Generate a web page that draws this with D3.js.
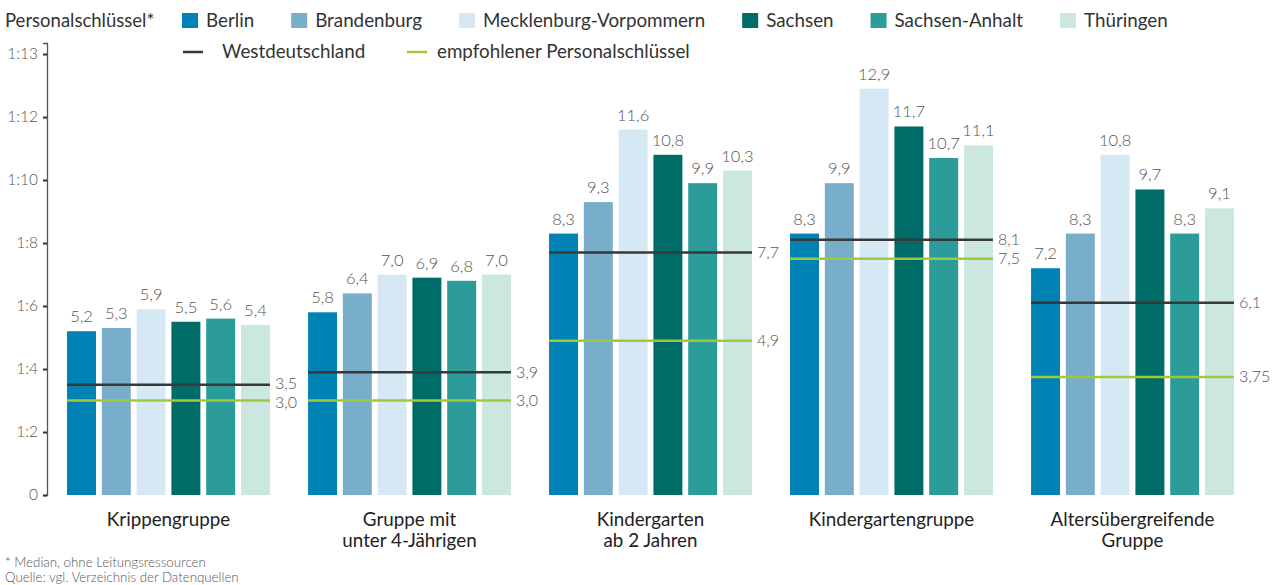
<!DOCTYPE html>
<html>
<head>
<meta charset="utf-8">
<script src="https://cdn.jsdelivr.net/npm/d3@7"></script>
<style>
  body { margin: 0; background: #fff; }
  svg { font-family: Lato, "Open Sans", sans-serif; }
</style>
</head>
<body>
<div id="main"></div>
<script>
// data
var groups = [["Krippengruppe"], ["Gruppe mit", "unter 4-Jährigen"], ["Kindergarten", "ab 2 Jahren"], ["Kindergartengruppe"], ["Altersübergreifende", "Gruppe"]];
var states = ["Berlin", "Brandenburg", "Mecklenburg-Vorpommern", "Sachsen", "Sachsen-Anhalt", "Thüringen"];
var colors = ["#0082b4", "#78aec9", "#d6e8f4", "#006c67", "#2b9c99", "#cce6e0"];

var berlin = [5.2, 5.8, 8.3, 8.3, 7.2];
var brandenburg = [5.3, 6.4, 9.3, 9.9, 8.3];
var mv = [5.9, 7.0, 11.6, 12.9, 10.8];
var sachsen = [5.5, 6.9, 10.8, 11.7, 9.7];
var sachsenAnhalt = [5.6, 6.8, 9.9, 10.7, 8.3];
var thueringen = [5.4, 7.0, 10.3, 11.1, 9.1];
var seriesValues = [berlin, brandenburg, mv, sachsen, sachsenAnhalt, thueringen];

var west = [3.5, 3.9, 7.7, 8.1, 6.1];
var westLabels = ["3,5", "3,9", "7,7", "8,1", "6,1"];
var empfohlen = [3.0, 3.0, 4.9, 7.5, 3.75];
var empfLabels = ["3,0", "3,0", "4,9", "7,5", "3,75"];

var tickValues = [0, 2, 4, 6, 8, 10, 12, 14];
var tickLabels = ["0", "1:2", "1:4", "1:6", "1:8", "1:10", "1:12", "1:13"];

var width = 1274, height = 585;

var svg = d3.select("#main")
  .append("svg")
  .attr("width", width)
  .attr("height", height);

var y = d3.scaleLinear()
  .domain([0, 14.35])
  .range([495, 43]);

var x0 = d3.scaleBand()
  .domain(d3.range(groups.length))
  .range([48, 1253])
  .paddingInner(0.158)
  .paddingOuter(0.079);

var x1 = d3.scaleBand()
  .domain(d3.range(states.length))
  .range([0, x0.bandwidth()])
  .paddingInner(0.167);

// y axis
var yAxis = svg.append("g")
  .attr("transform", "translate(47,0)")
  .call(d3.axisLeft(y)
    .tickValues(tickValues)
    .tickSize(4)
    .tickFormat(function (d, i) { return tickLabels[i]; }));
yAxis.select(".domain").attr("stroke", "#555").attr("stroke-width", 1.3);
yAxis.selectAll(".tick line").attr("stroke", "#333").attr("stroke-width", 2);
yAxis.selectAll(".tick text")
  .attr("x", -9)
  .style("font-family", "Lato, sans-serif")
  .style("font-size", "15.5px")
  .style("font-weight", 300)
  .attr("fill", "#555");

// bars
var g = svg.selectAll(".grp")
  .data(groups)
  .enter()
  .append("g")
  .attr("class", "grp")
  .attr("transform", function (d, i) { return "translate(" + x0(i) + ",0)"; });

g.selectAll("rect")
  .data(function (d, gi) { return seriesValues.map(function (s, si) { return { si: si, v: s[gi] }; }); })
  .enter()
  .append("rect")
  .attr("x", function (d) { return x1(d.si); })
  .attr("y", function (d) { return y(d.v); })
  .attr("width", x1.bandwidth())
  .attr("height", function (d) { return y(0) - y(d.v); })
  .attr("fill", function (d) { return colors[d.si]; });

g.selectAll("text.val")
  .data(function (d, gi) { return seriesValues.map(function (s, si) { return { si: si, v: s[gi] }; }); })
  .enter()
  .append("text")
  .attr("class", "val")
  .attr("x", function (d) { return x1(d.si) + x1.bandwidth() / 2; })
  .attr("y", function (d) { return y(d.v) - 9; })
  .attr("text-anchor", "middle")
  .style("font-size", "16.5px")
  .style("font-weight", 300)
  .attr("fill", "#555")
  .text(function (d) { return d3.format(".1f")(d.v).replace(".", ","); });

// reference lines
function refLine(values, color) {
  g.append("line")
    .attr("x1", 0)
    .attr("x2", x0.bandwidth())
    .attr("y1", function (d, i) { return y(values[i]); })
    .attr("y2", function (d, i) { return y(values[i]); })
    .attr("stroke", color)
    .attr("stroke-width", 2.5);
}
refLine(west, "#383838");
refLine(empfohlen, "#a2c73b");

// labels for the reference lines, pushed apart a little where they sit close
var minGap = 19;
function refLabel(values, labels, sign) {
  g.append("text")
    .attr("x", x0.bandwidth() + 5)
    .attr("y", function (d, i) {
      var gap = y(empfohlen[i]) - y(west[i]);
      var shift = gap < minGap ? (minGap - gap) / 2 : 0;
      return y(values[i]) + sign * shift;
    })
    .attr("dy", "0.35em")
    .style("font-size", "16px")
    .style("font-weight", 300)
    .attr("fill", "#555")
    .text(function (d, i) { return labels[i]; });
}
refLabel(west, westLabels, -1);
refLabel(empfohlen, empfLabels, 1);

// category labels
g.append("text")
  .attr("x", x0.bandwidth() / 2)
  .attr("y", 526)
  .attr("text-anchor", "middle")
  .style("font-size", "18.8px")
  .attr("fill", "#222")
  .selectAll("tspan")
  .data(function (d) { return d; })
  .enter()
  .append("tspan")
  .attr("x", x0.bandwidth() / 2)
  .attr("dy", function (d, i) { return i === 0 ? 0 : 21; })
  .text(function (d) { return d; });

// legend
svg.append("text")
  .attr("x", 5)
  .attr("y", 27)
  .style("font-size", "18.5px")
  .attr("fill", "#333")
  .text("Personalschlüssel*");

var lx = 182;
states.forEach(function (s, i) {
  svg.append("rect")
    .attr("x", lx).attr("y", 13)
    .attr("width", 16).attr("height", 15)
    .attr("fill", colors[i]);
  var t = svg.append("text")
    .attr("x", lx + 24)
    .attr("y", 27)
    .style("font-size", "18.8px")
    .attr("fill", "#333")
    .text(s);
  lx += 24 + t.node().getComputedTextLength() + 37;
});

var refLegend = [["Westdeutschland", "#383838"], ["empfohlener Personalschlüssel", "#a2c73b"]];
var refLegendX = [183, 407];
refLegend.forEach(function (r, i) {
  var lx = refLegendX[i];
  svg.append("line")
    .attr("x1", lx).attr("x2", lx + 20)
    .attr("y1", 52).attr("y2", 52)
    .attr("stroke", r[1]).attr("stroke-width", 2.5);
  svg.append("text")
    .attr("x", i === 0 ? lx + 39 : lx + 30)
    .attr("y", 58)
    .style("font-size", "18.8px")
    .attr("fill", "#333")
    .text(r[0]);
});

// footnotes
svg.append("text")
  .attr("x", 5).attr("y", 567)
  .style("font-size", "13.3px")
  .style("font-weight", 300)
  .attr("fill", "#555")
  .text("* Median, ohne Leitungsressourcen");
svg.append("text")
  .attr("x", 5).attr("y", 582)
  .style("font-size", "13.3px")
  .style("font-weight", 300)
  .attr("fill", "#555")
  .text("Quelle: vgl. Verzeichnis der Datenquellen");
</script>
</body>
</html>
